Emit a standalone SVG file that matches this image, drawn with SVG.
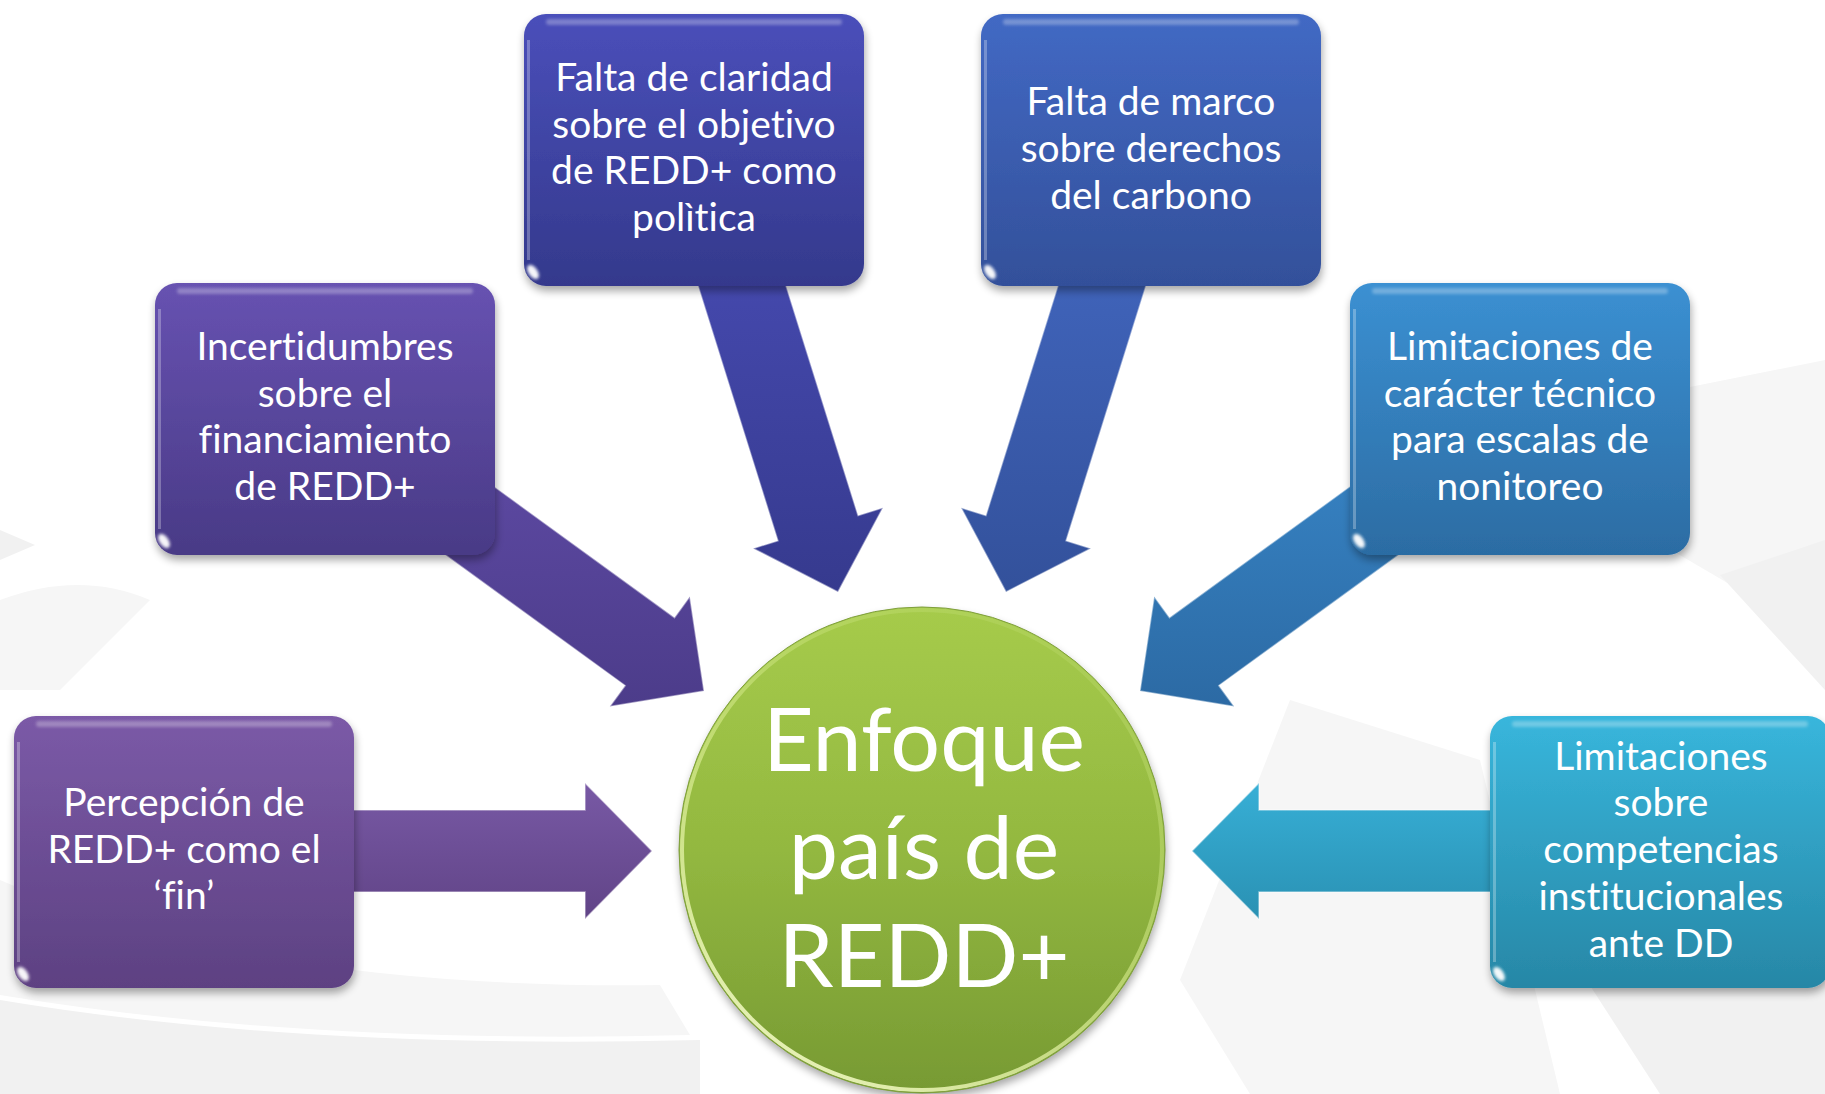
<svg xmlns="http://www.w3.org/2000/svg" width="1825" height="1094" viewBox="0 0 1825 1094">
<defs>
<style>
.t{font-family:Lato,"Open Sans","Liberation Sans",sans-serif;fill:#ffffff;text-anchor:middle;font-size:39px;font-variant-ligatures:none;font-feature-settings:"liga" 0,"clig" 0}
.big{font-size:88px}
.hl{fill:#ffffff;opacity:0.28}
.glint{fill:#ffffff;opacity:0.95}
.arw{stroke:#ffffff;stroke-opacity:0.45;stroke-width:1.6;stroke-linejoin:miter}
.bg1{fill:#f6f6f6}
.bg2{fill:#f1f1f1}
</style>
<filter id="sh" x="-10%" y="-10%" width="120%" height="130%">
<feGaussianBlur in="SourceAlpha" stdDeviation="4"/>
<feOffset dx="1" dy="5" result="b"/>
<feComponentTransfer><feFuncA type="linear" slope="0.35"/></feComponentTransfer>
<feMerge><feMergeNode/><feMergeNode in="SourceGraphic"/></feMerge>
</filter>
<filter id="soft" x="-20%" y="-50%" width="140%" height="200%"><feGaussianBlur stdDeviation="1.5"/></filter>
<linearGradient id="gP1" x1="0" y1="0" x2="0" y2="1"><stop offset="0" stop-color="#7b5aa7"/><stop offset="1" stop-color="#5d4182"/></linearGradient>
<linearGradient id="gP2" x1="0" y1="0" x2="0" y2="1"><stop offset="0" stop-color="#6752b1"/><stop offset="1" stop-color="#493a86"/></linearGradient>
<linearGradient id="gI" x1="0" y1="0" x2="0" y2="1"><stop offset="0" stop-color="#4a4fba"/><stop offset="1" stop-color="#34398c"/></linearGradient>
<linearGradient id="gB" x1="0" y1="0" x2="0" y2="1"><stop offset="0" stop-color="#4269c4"/><stop offset="1" stop-color="#33509a"/></linearGradient>
<linearGradient id="gS" x1="0" y1="0" x2="0" y2="1"><stop offset="0" stop-color="#3b90d2"/><stop offset="1" stop-color="#2c6ca3"/></linearGradient>
<linearGradient id="gC" x1="0" y1="0" x2="0" y2="1"><stop offset="0" stop-color="#38b6dc"/><stop offset="1" stop-color="#2787a6"/></linearGradient>
<linearGradient id="aA" gradientUnits="userSpaceOnUse" x1="0" y1="260" x2="0" y2="592"><stop offset="0" stop-color="#4549ae"/><stop offset="1" stop-color="#363a8e"/></linearGradient>
<linearGradient id="aB" gradientUnits="userSpaceOnUse" x1="0" y1="260" x2="0" y2="592"><stop offset="0" stop-color="#4064bb"/><stop offset="1" stop-color="#33519b"/></linearGradient>
<linearGradient id="aC" gradientUnits="userSpaceOnUse" x1="0" y1="440" x2="0" y2="706"><stop offset="0" stop-color="#5e4aa4"/><stop offset="1" stop-color="#4c3c8a"/></linearGradient>
<linearGradient id="aD" gradientUnits="userSpaceOnUse" x1="0" y1="440" x2="0" y2="706"><stop offset="0" stop-color="#3784c5"/><stop offset="1" stop-color="#2c6aa4"/></linearGradient>
<linearGradient id="aE" gradientUnits="userSpaceOnUse" x1="0" y1="783" x2="0" y2="919"><stop offset="0" stop-color="#7859a5"/><stop offset="1" stop-color="#614487"/></linearGradient>
<linearGradient id="aF" gradientUnits="userSpaceOnUse" x1="0" y1="783" x2="0" y2="919"><stop offset="0" stop-color="#37afd6"/><stop offset="1" stop-color="#2a91b3"/></linearGradient>
<linearGradient id="gG" x1="0" y1="0" x2="0" y2="1"><stop offset="0" stop-color="#a6cb4b"/><stop offset="0.5" stop-color="#93b840"/><stop offset="1" stop-color="#779a33"/></linearGradient>
<linearGradient id="gRim" x1="0.2" y1="1" x2="0.8" y2="0"><stop offset="0" stop-color="#f4fbc8" stop-opacity="0.95"/><stop offset="0.5" stop-color="#d8ec8e" stop-opacity="0.6"/><stop offset="1" stop-color="#b9d86a" stop-opacity="0.3"/></linearGradient>
</defs>

<rect width="1825" height="1094" fill="#ffffff"/>
<g id="background">
<path class="bg1" d="M1825 360 L1650 395 L1620 520 L1825 640 Z"/>
<path class="bg2" d="M1825 540 L1720 575 L1825 690 Z"/>
<path class="bg1" d="M1290 700 L1480 760 L1560 1094 L1250 1094 L1180 980 Z"/>
<path class="bg2" d="M1580 970 L1825 890 L1825 1094 L1660 1094 Z"/>
<path class="bg1" d="M0 600 Q 80 570 150 600 L 60 690 L0 690 Z"/>
<path class="bg2" d="M0 1000 Q 300 1050 700 1040 L 700 1094 L 0 1094 Z"/>
<path class="bg1" d="M0 880 Q 250 990 660 985 L 690 1035 Q 300 1045 0 995 Z"/>
<path class="bg2" d="M0 530 L35 545 L0 560 Z"/>
</g>

<g id="connectors">
<polygon class="arw" fill="url(#aA)" points="697.0,282.6 777.9,540.7 753.1,548.4 838,592 882.9,507.8 858.1,515.5 777.2,257.4"/>
<polygon class="arw" fill="url(#aB)" points="1147.0,282.6 1066.1,540.7 1090.9,548.4 1006,592 961.1,507.8 985.9,515.5 1066.8,257.4"/>
<polygon class="arw" fill="url(#aC)" points="382.4,509.2 625.1,685.6 609.8,706.6 704,691 689.8,596.6 674.5,617.6 431.8,441.2"/>
<polygon class="arw" fill="url(#aD)" points="1461.6,509.2 1218.9,685.6 1234.2,706.6 1140,691 1154.2,596.6 1169.5,617.6 1412.2,441.2"/>
<polygon class="arw" fill="url(#aE)" points="300,810 585,810 585,783 652,851 585,919 585,892 300,892"/>
<polygon class="arw" fill="url(#aF)" points="1544,810 1259,810 1259,783 1192,851 1259,919 1259,892 1544,892"/>
</g>

<g id="center">
<circle cx="922" cy="850" r="243" fill="url(#gG)" filter="url(#sh)"/>
<circle cx="922" cy="850" r="240" fill="none" stroke="url(#gRim)" stroke-width="4"/>
<circle cx="922" cy="850" r="243" fill="none" stroke="#7f9f3c" stroke-width="1"/>
<text class="t big" x="924" y="771">Enfoque</text>
<text class="t big" x="924" y="879">país de</text>
<text class="t big" x="924" y="987">REDD+</text>
</g>

<g id="box-claridad">
<rect x="524" y="14" width="340" height="272" rx="22" fill="url(#gI)" filter="url(#sh)"/>
<rect class="hl" x="546" y="19" width="296" height="6" rx="3" filter="url(#soft)"/>
<rect class="hl" x="527" y="40" width="3" height="220" opacity="0.15"/>
<ellipse class="glint" cx="533" cy="272" rx="4.5" ry="8" transform="rotate(-35 533 272)" filter="url(#soft)"/>
<text class="t" x="694" y="91">Falta de claridad</text>
<text class="t" x="694" y="137.5">sobre el objetivo</text>
<text class="t" x="694" y="184">de REDD+ como</text>
<text class="t" x="694" y="231">polìtica</text>
</g>

<g id="box-marco">
<rect x="981" y="14" width="340" height="272" rx="22" fill="url(#gB)" filter="url(#sh)"/>
<rect class="hl" x="1003" y="19" width="296" height="6" rx="3" filter="url(#soft)"/>
<rect class="hl" x="984" y="40" width="3" height="220" opacity="0.15"/>
<ellipse class="glint" cx="990" cy="272" rx="4.5" ry="8" transform="rotate(-35 990 272)" filter="url(#soft)"/>
<text class="t" x="1151" y="115">Falta de marco</text>
<text class="t" x="1151" y="162">sobre derechos</text>
<text class="t" x="1151" y="209">del carbono</text>
</g>

<g id="box-incertidumbres">
<rect x="155" y="283" width="340" height="272" rx="22" fill="url(#gP2)" filter="url(#sh)"/>
<rect class="hl" x="177" y="288" width="296" height="6" rx="3" filter="url(#soft)"/>
<rect class="hl" x="158" y="309" width="3" height="220" opacity="0.15"/>
<ellipse class="glint" cx="164" cy="541" rx="4.5" ry="8" transform="rotate(-35 164 541)" filter="url(#soft)"/>
<text class="t" x="325" y="360">Incertidumbres</text>
<text class="t" x="325" y="406.5">sobre el</text>
<text class="t" x="325" y="453">financiamiento</text>
<text class="t" x="325" y="500">de REDD+</text>
</g>

<g id="box-tecnico">
<rect x="1350" y="283" width="340" height="272" rx="22" fill="url(#gS)" filter="url(#sh)"/>
<rect class="hl" x="1372" y="288" width="296" height="6" rx="3" filter="url(#soft)"/>
<rect class="hl" x="1353" y="309" width="3" height="220" opacity="0.15"/>
<ellipse class="glint" cx="1359" cy="541" rx="4.5" ry="8" transform="rotate(-35 1359 541)" filter="url(#soft)"/>
<text class="t" x="1520" y="360">Limitaciones de</text>
<text class="t" x="1520" y="406.5">carácter técnico</text>
<text class="t" x="1520" y="453">para escalas de</text>
<text class="t" x="1520" y="500">nonitoreo</text>
</g>

<g id="box-percepcion">
<rect x="14" y="716" width="340" height="272" rx="22" fill="url(#gP1)" filter="url(#sh)"/>
<rect class="hl" x="36" y="721" width="296" height="6" rx="3" filter="url(#soft)"/>
<rect class="hl" x="17" y="742" width="3" height="220" opacity="0.15"/>
<ellipse class="glint" cx="23" cy="974" rx="4.5" ry="8" transform="rotate(-35 23 974)" filter="url(#soft)"/>
<text class="t" x="184" y="816">Percepción de</text>
<text class="t" x="184" y="863">REDD+ como el</text>
<text class="t" x="184" y="909">‘fin’</text>
</g>

<g id="box-competencias">
<rect x="1490" y="716" width="340" height="272" rx="22" fill="url(#gC)" filter="url(#sh)"/>
<rect class="hl" x="1512" y="721" width="296" height="6" rx="3" filter="url(#soft)"/>
<rect class="hl" x="1493" y="742" width="3" height="220" opacity="0.15"/>
<ellipse class="glint" cx="1499" cy="974" rx="4.5" ry="8" transform="rotate(-35 1499 974)" filter="url(#soft)"/>
<text class="t" x="1661" y="770">Limitaciones</text>
<text class="t" x="1661" y="816">sobre</text>
<text class="t" x="1661" y="863">competencias</text>
<text class="t" x="1661" y="910">institucionales</text>
<text class="t" x="1661" y="957">ante DD</text>
</g>
</svg>
